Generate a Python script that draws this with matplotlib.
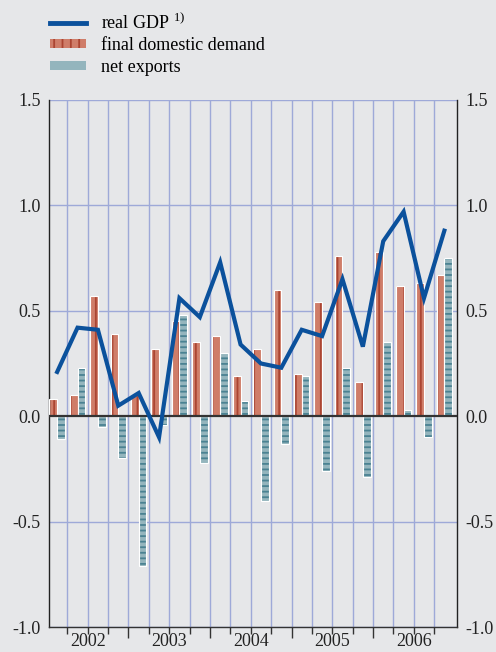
import numpy as np
import matplotlib
matplotlib.use('Agg')
import matplotlib.pyplot as plt
from matplotlib.patches import Patch
from matplotlib.lines import Line2D

plt.rcParams['font.family'] = ['Liberation Serif', 'DejaVu Serif']
plt.rcParams['mathtext.fontset'] = 'custom'
plt.rcParams['mathtext.rm'] = 'Liberation Serif'
plt.rcParams['hatch.linewidth'] = 1.3

# quarterly data 2002Q1 - 2006Q4
years = ['2002', '2003', '2004', '2005', '2006']
gdp = [0.21, 0.42, 0.41, 0.05, 0.11, -0.10, 0.56, 0.47, 0.73, 0.34,
       0.25, 0.23, 0.41, 0.38, 0.65, 0.33, 0.83, 0.97, 0.56, 0.88]
demand = [0.08, 0.10, 0.57, 0.39, 0.10, 0.32, 0.45, 0.35, 0.38, 0.19,
          0.32, 0.60, 0.20, 0.54, 0.76, 0.16, 0.78, 0.62, 0.63, 0.67]
netexp = [-0.11, 0.23, -0.05, -0.20, -0.71, -0.04, 0.48, -0.22, 0.30, 0.07,
          -0.40, -0.13, 0.19, -0.26, 0.23, -0.29, 0.35, 0.03, -0.10, 0.75]
yticks = [-1.0, -0.5, 0.0, 0.5, 1.0, 1.5]
ylabels = ['-1.0', '-0.5', '0.0', '0.5', '1.0', '1.5']

bg = '#e6e7e9'
red_face = '#cf7d69'
red_hatch = '#ab4532'
teal_face = '#94b5bd'
teal_hatch = '#4a8292'
blue = '#0b519c'
grid_col = '#9ea9d8'

fig = plt.figure(figsize=(4.96, 6.52), dpi=100, facecolor=bg)
ax = fig.add_axes([49/496, 1-627/652, 408/496, 527/652])
ax.set_facecolor(bg)

n = len(gdp)
x = np.arange(n) + 0.5
w = 0.38

# grid
for b in range(1, n):
    ax.axvline(b, color=grid_col, lw=1.0, zorder=1)
for yv in yticks:
    if yv != 0:
        ax.axhline(yv, color=grid_col, lw=1.0, zorder=1)

ax.bar(x - w/2, demand, w, color=red_face, edgecolor=red_hatch, hatch='||',
       linewidth=0, zorder=2)
ax.bar(x - w/2, demand, w, fill=False, edgecolor='white', linewidth=0.8, zorder=3)
ax.bar(x + w/2, netexp, w, color=teal_face, edgecolor=teal_hatch, hatch='---',
       linewidth=0, zorder=2)
ax.bar(x + w/2, netexp, w, fill=False, edgecolor='white', linewidth=0.8, zorder=3)

ax.axhline(0, color='#333333', lw=1.6, zorder=4)
ax.plot(x, gdp, color=blue, lw=3.0, zorder=5, solid_joinstyle='miter')

ax.set_xlim(0.1, 20.12)
ax.set_ylim(-1.0, 1.5)

ax.set_yticks(yticks)
ax.set_yticklabels(ylabels)
ax.tick_params(axis='y', length=0, labelsize=13, pad=6, labelleft=True,
               labelright=True, colors='#222222')

ax.xaxis.remove_overlapping_locs = False
ax.set_xticks(np.arange(1, n))
ax.set_xticklabels([])
ax.tick_params(axis='x', which='major', length=5, width=1.0, color='#333333',
               direction='out')
for i, t in enumerate(ax.xaxis.get_major_ticks()):
    if (i + 1) % 4 == 0:
        t.tick1line.set_markersize(8)
ax.set_xticks(np.arange(2, n, 4), labels=years, minor=True)
ax.tick_params(axis='x', which='minor', length=0, labelsize=13, pad=4,
               colors='#222222')

for s in ['left', 'right']:
    ax.spines[s].set_color('#222222')
    ax.spines[s].set_linewidth(1.0)
ax.spines['top'].set_visible(False)
ax.spines['bottom'].set_color('#333333')
ax.spines['bottom'].set_linewidth(1.0)

handles = [Line2D([0], [0], color=blue, lw=3.5),
           Patch(facecolor=red_face, edgecolor=red_hatch, hatch='||', linewidth=0),
           Patch(facecolor=teal_face, edgecolor=teal_hatch, hatch='-', linewidth=0)]
labels = [r'real GDP $^{\mathrm{1)}}$', 'final domestic demand', 'net exports']
fig.legend(handles, labels, loc='upper left', bbox_to_anchor=(50/496, 1-12/652),
           frameon=False, fontsize=13, borderpad=0, borderaxespad=0,
           handlelength=2.0, handleheight=0.4, handletextpad=0.85, labelspacing=0.25)

fig.savefig('out.png', dpi=100, facecolor=bg)
